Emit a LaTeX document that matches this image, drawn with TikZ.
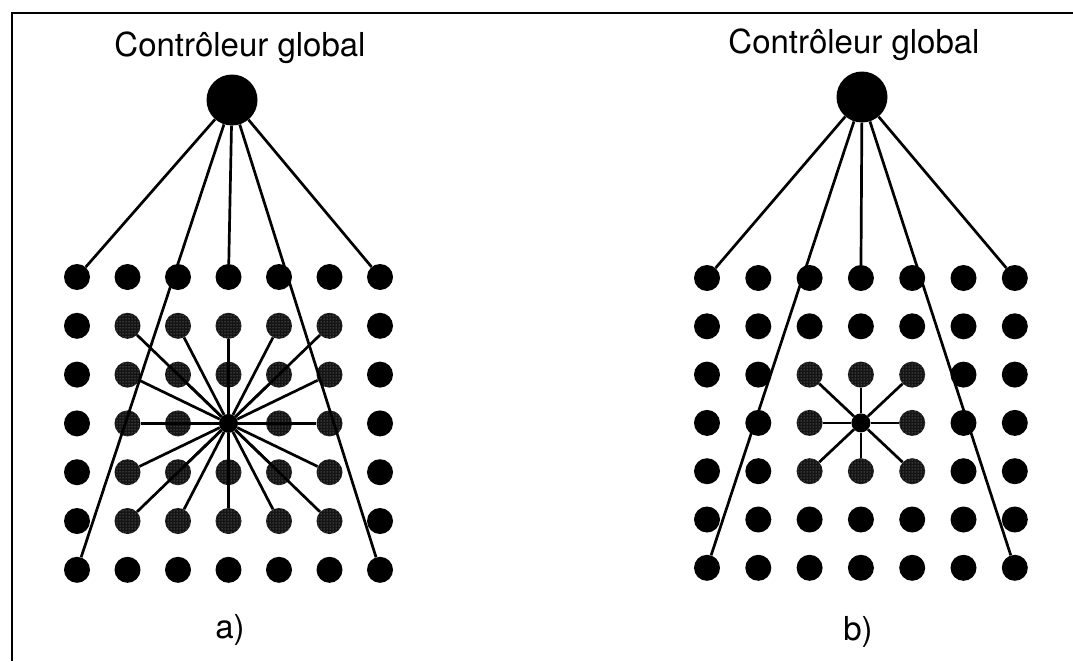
\documentclass[tikz,border=0pt]{standalone}
\usepackage{fontspec}
\setmainfont{TeX Gyre Heros}
\usepackage{tikz}
\usetikzlibrary{patterns}
\tikzstyle{ctrl} = [circle, fill = black, inner sep = 0pt, minimum size = 51pt]
\tikzstyle{cell} = [circle, fill = black, inner sep = 0pt, minimum size = 26pt]
\tikzstyle{neigh} = [circle, fill = black!92, postaction = {pattern = dots, pattern color = black!35}, inner sep = 0pt, minimum size = 26pt]
\tikzstyle{hub} = [circle, fill = black, inner sep = 0pt, minimum size = 19pt]
\tikzstyle{link} = [line width = 2.7pt]
\tikzstyle{label} = [font = \fontsize{33}{38}\selectfont]

\begin{document}
\begin{tikzpicture}[x = 1pt, y = -1pt]
    \useasboundingbox (0,0) rectangle (1073,661);
    \draw [line width = 2pt] (12,661) -- (12,13) -- (1073,13);

    % a) controleur global, voisinage 5x5
    \node (a-title) [label] at (240,48) {Contrôleur global};
    \node (a-ctrl) [ctrl] at (232,100) {};
    \foreach \r in {1,...,7}
        \foreach \c in {1,...,7} {
            \pgfmathtruncatemacro{\ring}{max(abs(\r-4),abs(\c-4))}
            \ifnum\ring=0
                \node (a-\r-\c) [hub] at ({77+50.5*(\c-1)},{277+48.8*(\r-1)}) {};
            \else\ifnum\ring<3
                \node (a-\r-\c) [neigh] at ({77+50.5*(\c-1)},{277+48.8*(\r-1)}) {};
            \else
                \node (a-\r-\c) [cell] at ({77+50.5*(\c-1)},{277+48.8*(\r-1)}) {};
            \fi\fi
        }
    \foreach \r in {2,...,6}
        \foreach \c in {2,...,6}
            \draw [link] (a-4-4) -- (a-\r-\c);
    \draw [link] (a-ctrl) -- (a-1-1);
    \draw [link] (a-ctrl) -- (a-1-4);
    \draw [link] (a-ctrl) -- (a-1-7);
    \draw [link] (a-ctrl) -- (a-7-1);
    \draw [link] (a-ctrl) -- (a-7-7);
    \node (a-label) [label] at (230,630) {a)};

    % b) controleur global, voisinage 3x3
    \node (b-title) [label] at (854,45) {Contrôleur global};
    \node (b-ctrl) [ctrl] at (862,97) {};
    \foreach \r in {1,...,7}
        \foreach \c in {1,...,7} {
            \pgfmathtruncatemacro{\ring}{max(abs(\r-4),abs(\c-4))}
            \ifnum\ring=0
                \node (b-\r-\c) [hub] at ({707+51.3*(\c-1)},{278+48.3*(\r-1)}) {};
            \else\ifnum\ring<2
                \node (b-\r-\c) [neigh] at ({707+51.3*(\c-1)},{278+48.3*(\r-1)}) {};
            \else
                \node (b-\r-\c) [cell] at ({707+51.3*(\c-1)},{278+48.3*(\r-1)}) {};
            \fi\fi
        }
    \foreach \r in {3,...,5}
        \foreach \c in {3,...,5}
            \draw [link] (b-4-4) -- (b-\r-\c);
    \draw [link] (b-ctrl) -- (b-1-1);
    \draw [link] (b-ctrl) -- (b-1-4);
    \draw [link] (b-ctrl) -- (b-1-7);
    \draw [link] (b-ctrl) -- (b-7-1);
    \draw [link] (b-ctrl) -- (b-7-7);
    \node (b-label) [label] at (858,632) {b)};
\end{tikzpicture}
\end{document}
